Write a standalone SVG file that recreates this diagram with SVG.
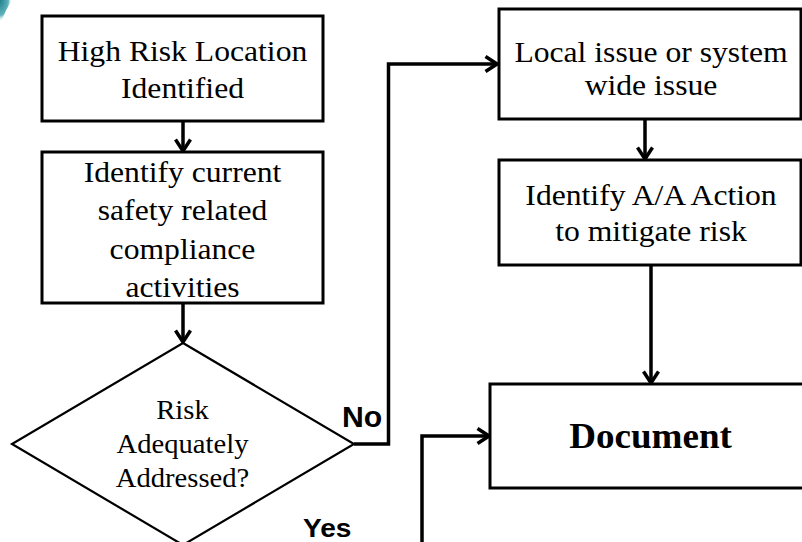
<svg xmlns="http://www.w3.org/2000/svg" width="802" height="542" viewBox="0 0 802 542">
  <style>
    .box { fill: #ffffff; stroke: #000000; stroke-width: 3; }
    .dia { fill: #ffffff; stroke: #000000; stroke-width: 2.2; }
    .t { font-family: 'Liberation Serif', 'Times New Roman', Times, serif; font-size: 29.3px; fill: #000000; text-anchor: middle; }
    .td { font-family: 'Liberation Serif', 'Times New Roman', Times, serif; font-size: 26.5px; fill: #000000; text-anchor: middle; }
    .tb { font-family: 'Liberation Serif', 'Times New Roman', Times, serif; font-size: 35px; font-weight: bold; fill: #000000; text-anchor: middle; }
    .lbl { font-family: 'Liberation Sans', Arial, sans-serif; font-weight: bold; fill: #000000; }
    .conn { fill: none; stroke: #000000; stroke-width: 3.5; stroke-linejoin: miter; }
  </style>
  <defs>
    <marker id="arr" markerUnits="userSpaceOnUse" markerWidth="16" markerHeight="20" viewBox="0 0 16 20" refX="13" refY="10" orient="auto">
      <path d="M1.5,2.5 L13,10 L1.5,17.5" fill="none" stroke="#000000" stroke-width="3.5"/>
    </marker>
    <radialGradient id="teal" cx="0" cy="0" r="1">
      <stop offset="0" stop-color="#1f7f8c"/>
      <stop offset="0.7" stop-color="#5fb3bd"/>
      <stop offset="1" stop-color="#ffffff" stop-opacity="0"/>
    </radialGradient>
  </defs>

  <rect width="802" height="542" fill="#ffffff"/>
  <path d="M0,0 H12 Q6,9 2,20 L0,22 Z" fill="url(#teal)"/>

  <g id="connectors">
    <path class="conn" d="M183,121 V151" marker-end="url(#arr)"/>
    <path class="conn" d="M183,303 V342" marker-end="url(#arr)"/>
    <path class="conn" d="M354,444 H388.5 V64 H497" marker-end="url(#arr)"/>
    <path class="conn" d="M645,119 V159" marker-end="url(#arr)"/>
    <path class="conn" d="M651,265 V383" marker-end="url(#arr)"/>
    <path class="conn" d="M422,542 V436 H489" marker-end="url(#arr)"/>
  </g>

  <g id="n1">
    <rect class="box" x="42" y="16" width="281" height="105"/>
    <text class="t" font-family="Liberation Serif, serif" transform="translate(182.5,0) scale(1.08,1)"><tspan x="0" y="61.5">High Risk Location</tspan><tspan x="0" y="98.5">Identified</tspan></text>
  </g>

  <g id="n2">
    <rect class="box" x="42" y="152" width="281" height="151"/>
    <text class="t" transform="translate(182.5,0) scale(1.08,1)"><tspan x="0" y="182">Identify current</tspan><tspan x="0" y="220.5">safety related</tspan><tspan x="0" y="259">compliance</tspan><tspan x="0" y="297.5">activities</tspan></text>
  </g>

  <g id="n3">
    <polygon class="dia" points="183,343 354,444 183,545 12,444"/>
    <text class="td" transform="translate(182.5,0) scale(1.08,1)"><tspan x="0" y="419.3">Risk</tspan><tspan x="0" y="453.3">Adequately</tspan><tspan x="0" y="486.7">Addressed?</tspan></text>
  </g>

  <g id="n4">
    <rect class="box" x="499" y="9" width="302" height="110"/>
    <text class="t" transform="translate(651,0) scale(1.08,1)"><tspan x="0" y="62">Local issue or system</tspan><tspan x="0" y="95">wide issue</tspan></text>
  </g>

  <g id="n5">
    <rect class="box" x="499" y="160" width="302" height="105"/>
    <text class="t" transform="translate(651,0) scale(1.08,1)"><tspan x="0" y="205.5">Identify A/A Action</tspan><tspan x="0" y="241.5">to mitigate risk</tspan></text>
  </g>

  <g id="n6">
    <rect class="box" x="490" y="384" width="322" height="104"/>
    <text class="tb" transform="translate(650.5,0) scale(1.06,1)" x="0" y="448.3">Document</text>
  </g>

  <g id="labels">
    <text class="lbl" font-size="29" transform="translate(342,0) scale(1.04,1)" x="0" y="426.7">No</text>
    <text class="lbl" font-size="26" transform="translate(303,0) scale(1.08,1)" x="0" y="537">Yes</text>
  </g>
</svg>
